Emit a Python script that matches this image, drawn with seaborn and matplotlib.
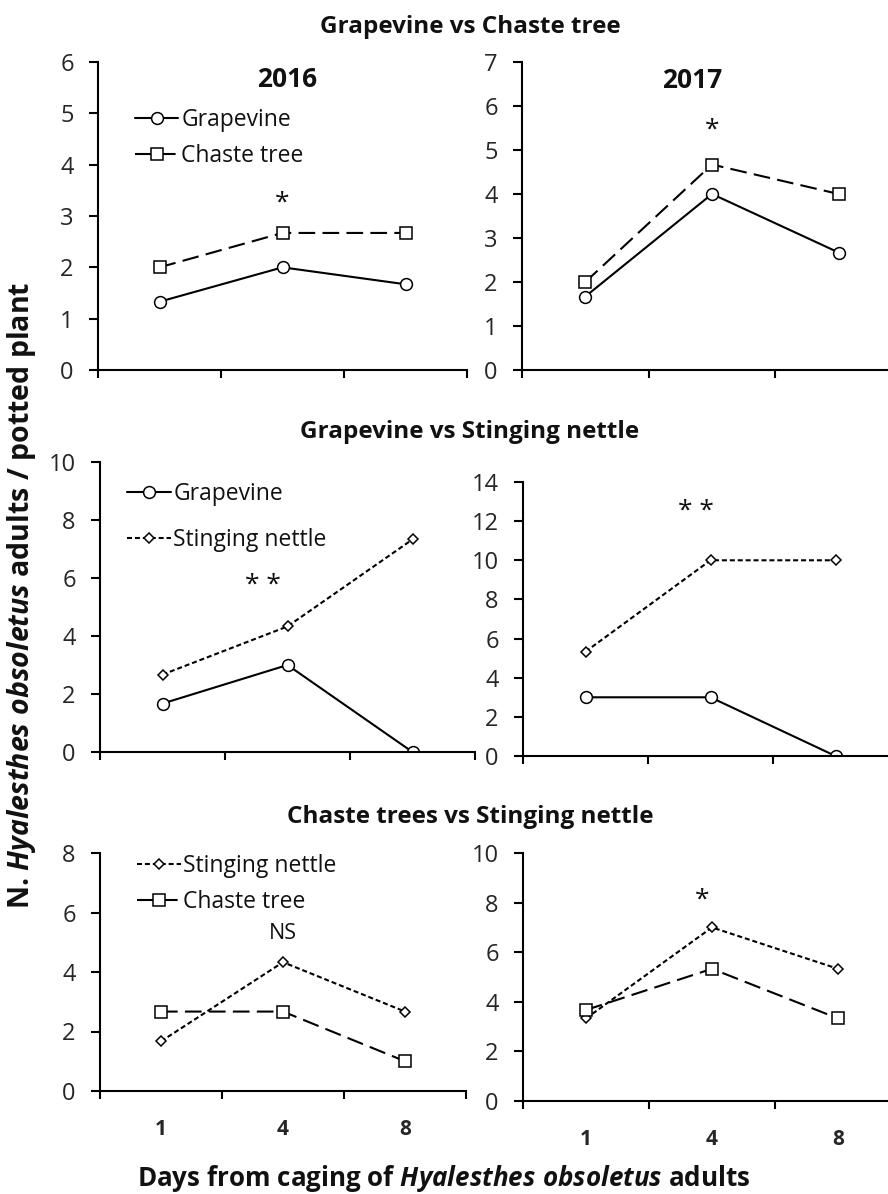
import matplotlib
matplotlib.use("Agg")
import matplotlib.pyplot as plt
import seaborn as sns
import numpy as np

# ---------------- data ----------------
days = ["1", "4", "8"]

# Grapevine vs Chaste tree
gc16_grapevine = [1.33, 2.0, 1.67]
gc16_chaste = [2.0, 2.67, 2.67]
gc17_grapevine = [1.67, 4.0, 2.67]
gc17_chaste = [2.0, 4.67, 4.0]

# Grapevine vs Stinging nettle
gn16_grapevine = [1.67, 3.0, 0.0]
gn16_nettle = [2.67, 4.33, 7.33]
gn17_grapevine = [3.0, 3.0, 0.0]
gn17_nettle = [5.33, 10.0, 10.0]

# Chaste trees vs Stinging nettle
cn16_nettle = [1.67, 4.33, 2.67]
cn16_chaste = [2.67, 2.67, 1.0]
cn17_nettle = [3.33, 7.0, 5.33]
cn17_chaste = [3.67, 5.33, 3.33]

# significance annotations: (text, x index, y value)
sig_text = ["*", "*", "* *", "* *", "NS", "*"]
sig_x = [1.0, 1.0, 0.8, 0.88, 1.0, 0.92]
sig_y = [3.25, 5.45, 5.75, 12.5, 5.3, 8.1]

ylims = [6, 7, 10, 14, 8, 10]
ysteps = [1, 1, 2, 2, 2, 2]

# ---------------- style ----------------
sns.set_theme(style="ticks")
plt.rcParams['font.family'] = ['Open Sans', 'DejaVu Sans']
plt.rcParams['text.color'] = '#111111'
plt.rcParams['mathtext.fontset'] = 'custom'
plt.rcParams['mathtext.rm'] = 'Open Sans'
plt.rcParams['mathtext.it'] = 'Open Sans:italic'
plt.rcParams['mathtext.bf'] = 'Open Sans:bold'
plt.rcParams['mathtext.bfit'] = 'Open Sans:italic:bold'

W, H = 888, 1194
fig = plt.figure(figsize=(W / 100, H / 100), dpi=100)


def px_axes(left, right, top, bottom):
    return fig.add_axes([left / W, 1 - bottom / H, (right - left) / W, (bottom - top) / H])


boxes = [(98, 467, 62, 370), (522, 902, 62, 370),
         (100, 475, 462, 752), (523, 898, 482, 756),
         (100, 466, 853, 1091), (523, 901, 853, 1101)]

styles = {
    "Grapevine": dict(marker='o', linestyle='-', markersize=8.5),
    "Chaste tree": dict(marker='s', linestyle=(0, (8, 3.5)), markersize=8.5),
    "Stinging nettle": dict(marker='D', linestyle=(0, (2.4, 1.4)), markersize=4.8),
}

panels = [
    [("Grapevine", gc16_grapevine), ("Chaste tree", gc16_chaste)],
    [("Grapevine", gc17_grapevine), ("Chaste tree", gc17_chaste)],
    [("Grapevine", gn16_grapevine), ("Stinging nettle", gn16_nettle)],
    [("Grapevine", gn17_grapevine), ("Stinging nettle", gn17_nettle)],
    [("Stinging nettle", cn16_nettle), ("Chaste tree", cn16_chaste)],
    [("Stinging nettle", cn17_nettle), ("Chaste tree", cn17_chaste)],
]

xpos = np.arange(len(days))
axes = []
for i, (box, series) in enumerate(zip(boxes, panels)):
    ax = px_axes(*box)
    axes.append(ax)
    show_leg = (i % 2 == 0)
    for name, vals in series:
        st = styles[name]
        sns.lineplot(x=xpos, y=vals, ax=ax, color='black', linewidth=1.5,
                     marker=st['marker'], linestyle=st['linestyle'],
                     markersize=st['markersize'], markerfacecolor='white',
                     markeredgecolor='black', markeredgewidth=1.1,
                     label=name if show_leg else None, legend=False)
    ax.set_xlim(-0.5, 2.5)
    ax.set_ylim(0, ylims[i])
    ax.set_yticks(np.arange(0, ylims[i] + 0.1, ysteps[i]))
    ax.set_xticks([-0.5, 0.5, 1.5, 2.5])
    ax.set_xticklabels([])
    ax.set_xticks(xpos, minor=True)
    if i >= 4:
        ax.set_xticklabels(days, minor=True, fontsize=15, fontweight='bold')
    ax.tick_params(axis='x', which='minor', length=0, pad=20)
    ax.tick_params(axis='x', which='major', direction='out', length=6, width=1.5, color='black')
    ax.tick_params(axis='y', direction='out', length=6.5, width=1.5, color='black',
                   labelsize=17, pad=11)
    for s in ['top', 'right']:
        ax.spines[s].set_visible(False)
    for s in ['left', 'bottom']:
        ax.spines[s].set_linewidth(1.5)
        ax.spines[s].set_color('black')
    ax.set_xlabel('')
    ax.set_ylabel('')
    ax.patch.set_alpha(0)
    t = sig_text[i]
    ax.text(sig_x[i], sig_y[i], t, ha='center', va='center',
            fontsize=19 if t != "NS" else 15.5)

# legends
leg_cfg = {0: ((0.10, 0.851), 0.54), 2: ((0.072, 0.931), 0.98), 4: ((0.101, 0.996), 0.52)}
for i, (anchor, lsp) in leg_cfg.items():
    ax = axes[i]
    ax.legend(loc='upper left', bbox_to_anchor=anchor, frameon=False,
              fontsize=16.5, handlelength=1.9, handletextpad=0.12,
              labelspacing=lsp, borderaxespad=0, borderpad=0)

# year labels
axes[0].text(1.04, 5.65, "2016", ha='center', va='center', fontsize=19, fontweight='bold')
axes[1].text(0.84, 6.59, "2017", ha='center', va='center', fontsize=19, fontweight='bold')

# group titles
title_kw = dict(ha='center', va='center', fontsize=17.5, fontweight='bold')
fig.text(470 / W, 1 - 27 / H, "Grapevine vs Chaste tree", **title_kw)
fig.text(470 / W, 1 - 432 / H, "Grapevine vs Stinging nettle", **title_kw)
fig.text(470 / W, 1 - 817 / H, "Chaste trees vs Stinging nettle", **title_kw)

fig.text(22 / W, 1 - 595 / H, r"N. $\mathbfit{Hyalesthes\ obsoletus}$ adults / potted plant",
         rotation=90, ha='center', va='center', fontsize=20.5, fontweight='bold')
fig.text(444 / W, 1 - 1178 / H, r"Days from caging of $\mathbfit{Hyalesthes\ obsoletus}$ adults",
         ha='center', va='center', fontsize=18.7, fontweight='bold')

fig.savefig("out.png", dpi=100)
